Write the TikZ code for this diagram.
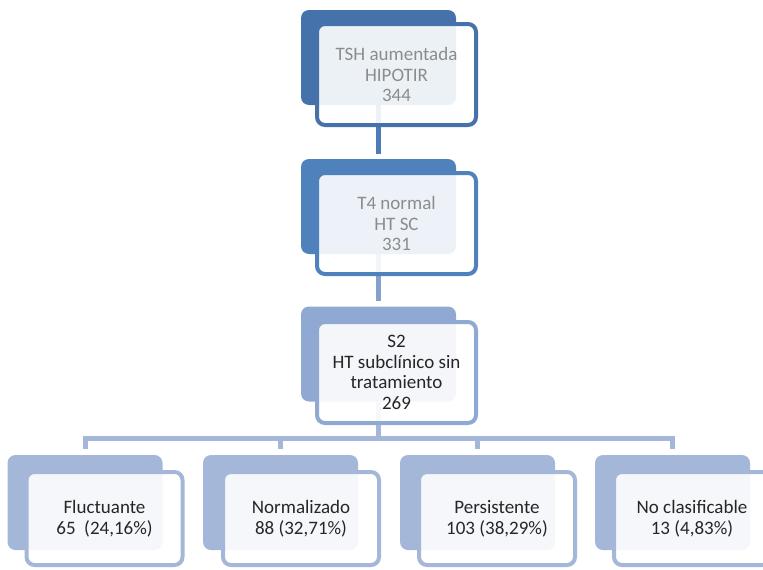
\documentclass[tikz,border=0pt]{standalone}
\usepackage{fontspec}
\setmainfont{Carlito}
\definecolor{blueA}{RGB}{70,114,172}
\definecolor{blueB}{RGB}{79,129,189}
\definecolor{blueC}{RGB}{143,169,211}
\definecolor{blueD}{RGB}{164,183,217}
\definecolor{linkA}{RGB}{75,123,184}
\definecolor{linkB}{RGB}{132,161,206}
\definecolor{txtgray}{RGB}{140,140,140}
\definecolor{txtdark}{RGB}{38,38,38}
\pgfdeclarelayer{bg}
\pgfsetlayers{bg,main}
\begin{document}
\begin{tikzpicture}[x=1pt,y=-1pt,
  back/.style={rounded corners=8pt, minimum width=155pt, minimum height=95pt,
    inner sep=0pt, draw=none},
  front/.style={rounded corners=8pt, line width=4pt, fill=white,
    fill opacity=0.9, text opacity=1, align=center, inner sep=0pt,
    font=\fontsize{19}{20.7}\selectfont},
  topfront/.style={front, minimum width=159pt, minimum height=101pt},
  leaffront/.style={front, minimum width=156pt, minimum height=93pt,
    text=txtdark, draw=blueD},
  leafback/.style={back, fill=blueD},
  link/.style={line width=5pt},
]
\useasboundingbox (0,0) rectangle (763,570);

% upper chain
\node[back, fill=blueA] (b1) at (378.5,57.5) {};
\node[topfront, draw=blueA, text=txtgray] (f1) at (396.5,74.5)
  {TSH aumentada\\HIPOTIR\\344};
\node[back, fill=blueB] (b2) at (378.5,206.5) {};
\node[topfront, draw=blueB, text=txtgray] (f2) at (396.5,223.5)
  {T4 normal\\HT SC\\331};
\node[back, fill=blueC] (b3) at (378.5,354) {};
\node[topfront, draw=blueC, text=txtdark] (f3) at (396.5,372.5)
  {S2\\HT subclínico sin\\tratamiento\\269};

% leaves
\node[leafback] (l1) at (85,502.5) {};
\node[leaffront] (g1) at (104.5,518.5) {Fluctuante\\65~~(24,16\%)};
\node[leafback] (l2) at (280.5,502.5) {};
\node[leaffront] (g2) at (301,518.5) {Normalizado\\88 (32,71\%)};
\node[leafback] (l3) at (477.5,502.5) {};
\node[leaffront] (g3) at (497,518.5) {Persistente\\103 (38,29\%)};
\node[leafback] (l4) at (672.5,502.5) {};
\node[leaffront] (g4) at (692,518.5) {No clasificable\\13 (4,83\%)};

% connectors
\coordinate (busL) at (85,438);
\coordinate (busR) at (672.5,438);
\begin{pgfonlayer}{bg}
  \draw[link, linkA, shorten >=5pt] (b1.south) -- (b2.north);
  \draw[link, linkB, shorten >=5pt] (b2.south) -- (b3.north);
  \draw[link, blueD] (b3.south) -- (b3.south |- busL);
  \draw[link, blueD, line cap=rect] (busL) -- (busR);
  \foreach \n in {l1,l2,l3,l4}
    \draw[link, blueD, shorten >=6pt] (\n.north |- busL) -- (\n.north);
\end{pgfonlayer}
\end{tikzpicture}
\end{document}
